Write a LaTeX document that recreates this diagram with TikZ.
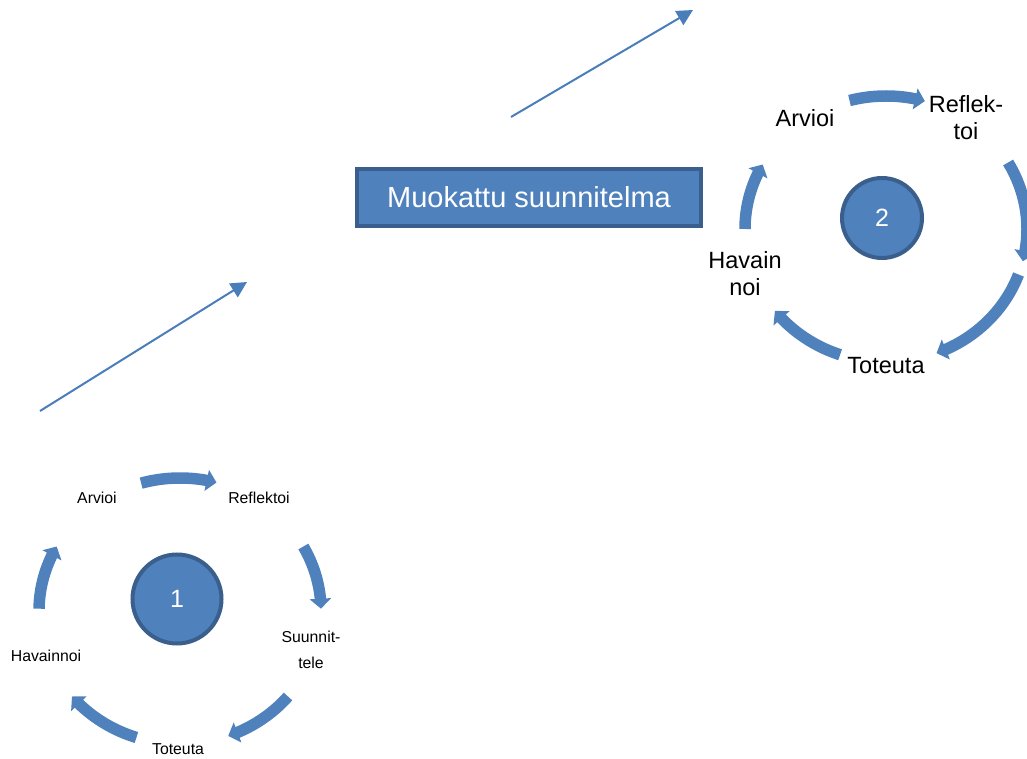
\documentclass[tikz,border=0pt]{standalone}
\usepackage{fontspec}
\setmainfont{Liberation Sans}
\usetikzlibrary{arrows.meta,bending}
\definecolor{fillblue}{HTML}{4F81BD}
\definecolor{edgeblue}{HTML}{3A5F8C}
\definecolor{lineblue}{HTML}{4A7EBB}
\tikzset{
  cycarrow/.style={draw=fillblue, line width=11.5pt,
    -{Triangle[length=10pt,width=21pt,flex]}},
  ringlabel/.style={inner sep=0pt, align=center, text=black},
  smalllabel/.style={ringlabel, font=\fontsize{15.8}{26}\selectfont},
  biglabel/.style={ringlabel, font=\fontsize{23.5}{27}\selectfont},
  numdisc/.style={circle, fill=fillblue, draw=edgeblue, line width=4pt,
    minimum size=84pt, inner sep=0pt, text=white, font=\fontsize{25}{30}\selectfont},
  titlebox/.style={rectangle, fill=fillblue, draw=edgeblue, line width=4pt,
    minimum width=344pt, minimum height=57pt, text=white, font=\fontsize{29}{34}\selectfont},
  linkarrow/.style={draw=lineblue, line width=2pt,
    -{Triangle[length=16pt,width=16pt]}}
}
\begin{document}
\begin{tikzpicture}[x=1pt,y=1pt]
\useasboundingbox (0,0) rectangle (1027,758);

% ring centres of the two cycles
\coordinate (c1) at (180,147);
\coordinate (c2) at (886,529);

% first cycle
\node[numdisc, minimum size=89pt] (n1) at (177,159) {1};
\node[smalllabel] (a1) at (97,260) {Arvioi};
\node[smalllabel] (r1) at (259,260) {Reflektoi};
\node[smalllabel] (s1) at (311,108) {Suunnit-\\tele};
\node[smalllabel] (t1) at (178,9) {Toteuta};
\node[smalllabel] (h1) at (46,102) {Havainnoi};

\foreach \a/\b in {106/75, 29/1, -40/-70, -108/-140, 179/151}
  \draw[cycarrow] ([shift={(\a:141 and 133)}]c1)
    arc[start angle=\a, end angle=\b, x radius=141, y radius=133];

% second cycle
\node[numdisc, minimum size=80pt] (n2) at (882,540) {2};
\node[biglabel] (a2) at (805,640) {Arvioi};
\node[biglabel] (r2) at (966,640) {Reflek-\\toi};
\node[biglabel] (h2) at (745,484) {Havain\\noi};
\node[biglabel] (t2) at (886,392) {Toteuta};

\foreach \a/\b in {105/74, 30/-14, -20/-69, -109/-142, 180/151}
  \draw[cycarrow] ([shift={(\a:141 and 133)}]c2)
    arc[start angle=\a, end angle=\b, x radius=141, y radius=133];

% revised plan box
\node[titlebox] (plan) at (529,560.5) {Muokattu suunnitelma};

% links between stages
\coordinate (l1s) at (40,347);
\coordinate (l1e) at (247,476);
\coordinate (l2s) at (511,641);
\coordinate (l2e) at (693,748);
\draw[linkarrow] (l1s) -- (l1e);
\draw[linkarrow] (l2s) -- (l2e);
\end{tikzpicture}
\end{document}
